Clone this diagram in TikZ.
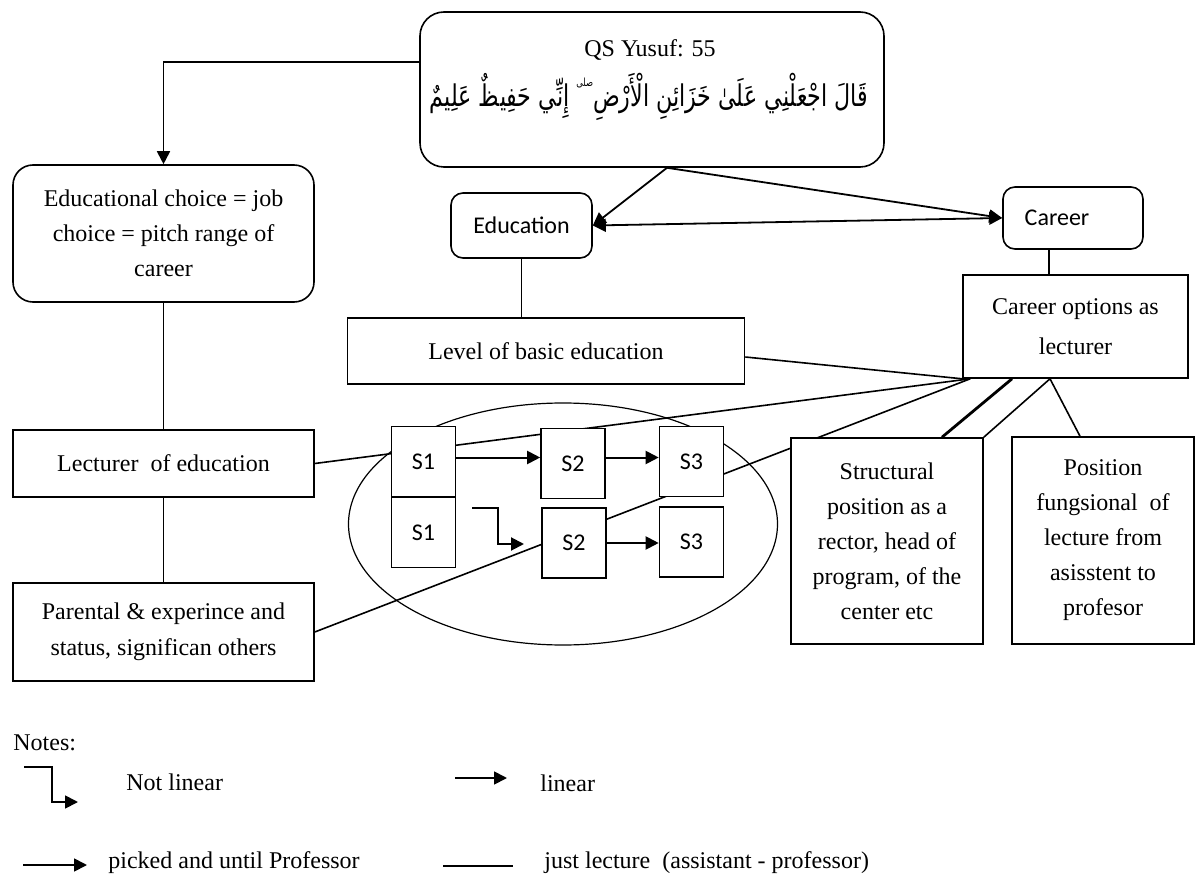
\documentclass[tikz,border=0pt]{standalone}
\usepackage{fontspec}
\usepackage{graphicx}
\setmainfont{Liberation Serif}
\newfontfamily\calib{Carlito}
\newfontfamily\arabicfont[Script=Arabic]{DejaVu Sans}
\TeXXeTstate=1
\usetikzlibrary{arrows.meta,backgrounds,shapes.geometric}

\tikzset{
  box/.style={draw, fill=white, line width=0.8pt, align=center, inner sep=0pt},
  rbox/.style={box, rounded corners=10pt},
  sbox/.style={box, minimum width=32pt, minimum height=35pt, font=\calib\fontsize{12}{14}\selectfont},
  link/.style={line width=0.8pt},
  arr/.style={line width=0.9pt, -{Triangle[length=6.5pt,width=6.5pt]}},
  note/.style={anchor=west, inner sep=0pt},
}
% small high pause mark (no installed font has U+06D6)
\newcommand\pausemark{\raisebox{8pt}{\fontsize{4.5}{5}\selectfont صلى}}

\begin{document}
\begin{tikzpicture}[x=0.5pt, y=-0.5pt, font=\fontsize{12}{17.5}\selectfont]
\useasboundingbox (0,0) rectangle (1195,882);

% verse
\node[rbox, rounded corners=12pt, minimum width=232pt, minimum height=77.5pt] (qs) at (652,89.5) {};
\node[font=\fontsize{12}{14}\selectfont] (qstitle) at (650,50) {QS Yusuf: 55};
\node (qsverse) at (649,97) {\scalebox{1}[1.35]{\resizebox{219pt}{!}{\arabicfont\beginR قَالَ اجْعَلْنِي عَلَىٰ خَزَائِنِ الْأَرْضِ\pausemark{} إِنِّي حَفِيظٌ عَلِيمٌ\endR}}};

% left column
\node[rbox, minimum width=150.5pt, minimum height=68.5pt] (choice) at (163.5,233.5) {Educational choice = job\\choice = pitch range of\\career};
\node[box, minimum width=150.5pt, minimum height=33.5pt] (lecturer) at (163.5,463.5) {Lecturer\ \ of education};
\node[box, minimum width=150.5pt, minimum height=49pt, font=\fontsize{12}{20}\selectfont] (parental) at (163.5,632) {\raisebox{-2pt}{Parental \& experince and}\\status, significan others};

% education and career
\node[rbox, rounded corners=6pt, minimum width=70.5pt, minimum height=32.5pt, font=\calib\fontsize{12}{14}\selectfont] (education) at (521.5,225.5) {Education};
\node[box, minimum width=198.5pt, minimum height=33pt] (level) at (546,351) {Level of basic education};
\node[rbox, rounded corners=6pt, minimum width=70pt, minimum height=31pt, font=\calib\fontsize{12}{14}\selectfont] (career) at (1073,218) {Career\hspace{16pt}};
\node[box, minimum width=112.5pt, minimum height=51.5pt, font=\fontsize{12}{20}\selectfont] (options) at (1075.5,326.5) {Career options as\\lecturer};
\node[box, minimum width=96pt, minimum height=103pt] (structural) at (887,541) {Structural\\position as a\\rector, head of\\program, of the\\center etc};
\node[box, minimum width=91pt, minimum height=103.5pt] (position) at (1103,540.5) {Position\\fungsional\ \ of\\lecture from\\asisstent to\\profesor};

% stages
\node[sbox] (s1a) at (423.5,461.5) {S1};
\node[sbox] (s1b) at (423.5,532.5) {S1};
\node[sbox] (s2a) at (573,463.5) {S2};
\node[sbox] (s3a) at (691.5,461.5) {S3};
\node[sbox] (s2b) at (574,543) {S2};
\node[sbox] (s3b) at (691.5,542) {S3};

\draw[arr, line width=1pt] ([yshift=2pt]s1a.east) -- ([yshift=2pt]s1a.east -| s2a.west);
\draw[arr, line width=1pt] ([yshift=3pt]s2a.east) -- ([yshift=3pt]s2a.east -| s3a.west);
\draw[arr, line width=1pt] (s2b.east) -- (s2b.east -| s3b.west);
\coordinate (turn in) at (472,508);
\coordinate (turn out) at (524,544);
\draw[arr, line width=1pt] (turn in) -- ++(26,0) |- (turn out);

\begin{scope}[on background layer]
\node[draw, ellipse, line width=0.6pt, minimum width=214.5pt, minimum height=121pt] (stages) at (563,524) {};
\draw[arr] ([yshift=13.75pt]qs.west) -| (choice.north);
\draw[arr] ([xshift=7.5pt]qs.south) -- (education.east);
\draw[arr] ([xshift=7.5pt]qs.south) -- (career.west);
\draw[line width=0.9pt, {Triangle[length=6.5pt,width=6.5pt]}-{Triangle[length=6.5pt,width=6.5pt]}] (education.east) -- (career.west);
\draw[link] (choice) -- (lecturer);
\draw[link] (lecturer) -- (parental);
\draw[link] (education.south) -- (education.south |- level.north);
\draw[link] ([xshift=-12pt]career.south) -- ([xshift=-12pt]career.south |- options.north);
\draw[link] ([yshift=-3pt]level.east) -- (options.south west);
\draw[link] (lecturer.east) -- ([xshift=4pt]options.south west);
\draw[link] (parental.east) -- ([xshift=4pt]options.south west);
\draw[line width=1.4pt] ([xshift=-31.75pt]options.south) -- ([xshift=27.5pt]structural.north);
\draw[link] ([xshift=-12.75pt]options.south) -- (structural.north east);
\draw[link] ([xshift=-12.75pt]options.south) -- ([xshift=-11.5pt]position.north);
\end{scope}

% notes
\node[note] (notes) at (13,743) {Notes:};
\coordinate (nl a) at (24,767);
\coordinate (nl b) at (78,802);
\draw[arr] (nl a) -- ++(28,0) |- (nl b);
\node[note] (nl text) at (126,782) {Not linear};
\coordinate (lin a) at (455,778);
\coordinate (lin b) at (507,778);
\draw[arr] (lin a) -- (lin b);
\node[note] (lin text) at (540,783) {linear};
\coordinate (pick a) at (23,865);
\coordinate (pick b) at (87,865);
\draw[arr] (pick a) -- (pick b);
\node[note] (pick text) at (108,863) {picked and until Professor};
\coordinate (just a) at (443,866);
\coordinate (just b) at (513,866);
\draw[link] (just a) -- (just b);
\node[note] (just text) at (544,863) {just lecture\ \ (assistant - professor)};
\end{tikzpicture}
\end{document}
